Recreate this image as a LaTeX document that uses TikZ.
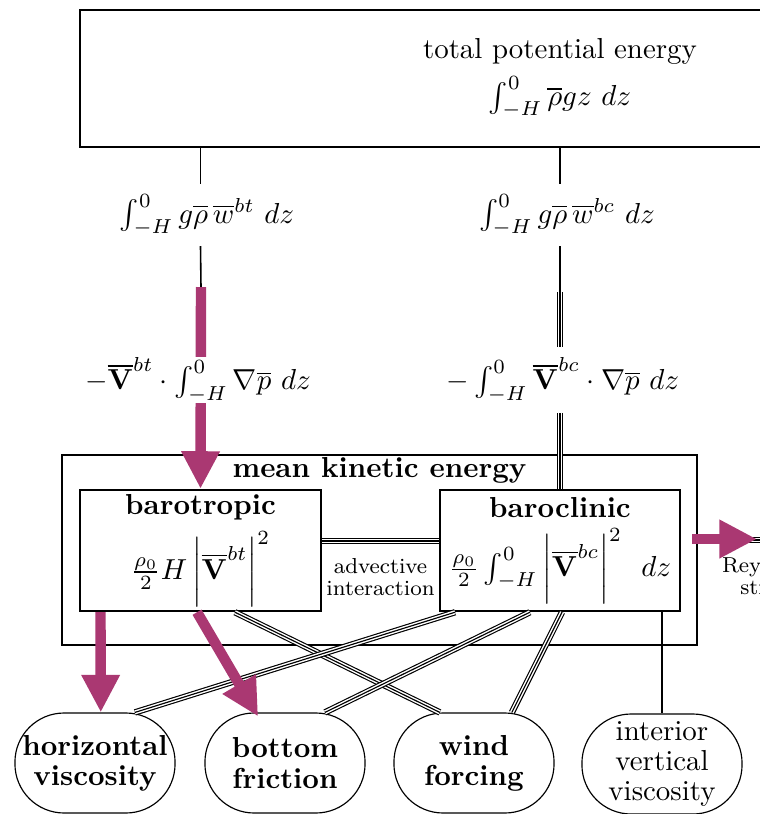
\documentclass[tikz,border=0pt]{standalone}
\usepackage{amsmath,amssymb}
\usepackage{xcolor}
\usepackage{tikz}
\usetikzlibrary{positioning,arrows.meta}
\definecolor{flowcol}{RGB}{170,56,114}

\begin{document}
\begin{tikzpicture}[x=0.346pt, y=-0.346pt, box/.style={draw, thick, align=center, inner sep=0pt},
    sink/.style={draw, rounded corners=17pt, minimum width=55.4pt, minimum height=34.6pt, inner sep=0pt,
    align=center, font=\bfseries\linespread{0.87}\selectfont},
    triple/.style={line width=2.2pt, postaction={draw=white, line width=1.4pt, postaction={draw=black, line width=0.4pt}}},
    flow/.style={draw=flowcol, line width=3.6pt, -{Triangle[length=13pt, width=12.5pt]}}, link/.style={line width=0.55pt},
    small/.style={font=\fontsize{7.5}{7.6}\selectfont, align=center}]
    \useasboundingbox (0,0) rectangle (760,814);
    \clip (0,0) rectangle (760,814);
    % reservoirs
    \node[box, minimum width=332pt, minimum height=47.4pt] (tpe) at (560,78.5) {total potential energy\\[3pt] $\int_{-H}^{0}\overline{\rho}gz\ dz$};
    \node[box, minimum width=219.7pt, minimum height=65.7pt] (mke) at (379.5,550) {};
    \node[font=\bfseries, inner sep=1pt, below=0pt of mke.north] (mketitle) {mean kinetic energy};
    \node[box, minimum width=83.4pt, minimum height=41.9pt] (bt) at (200.5,550.5) {\textbf{barotropic}\\[3pt] $\frac{\rho_0}{2}H\,\bigg|\overline{\mathbf{V}}^{bt}\bigg|^2$};
    \node[box, minimum width=83pt, minimum height=41.9pt] (bc) at (560,550.5) {\textbf{baroclinic}\\[3pt] $\frac{\rho_0}{2}\int_{-H}^{0}\bigg|\overline{\mathbf{V}}^{bc}\bigg|^2\ \ dz$};
    \node (wbt) at (207,215) {$\int_{-H}^{0} g\overline{\rho}\,\overline{w}^{bt}\ dz$};
    \node (wbc) at (567,215) {$\int_{-H}^{0} g\overline{\rho}\,\overline{w}^{bc}\ dz$};
    \node (pbc) at (563,380) {$-\int_{-H}^{0}\overline{\mathbf{V}}^{bc}\cdot\nabla\overline{p}\ dz$};
    \node[sink] (hv) at (95,763) {horizontal\\viscosity};
    \node[sink] (bf) at (285,763) {bottom\\friction};
    \node[sink] (wf) at (474,763) {wind\\forcing};
    \node[sink, font=\normalfont\linespread{0.87}\selectfont] (ivv) at (662,764) {interior\\vertical\\viscosity};
    \coordinate (btmid) at (201,287);
    \coordinate (bcmid) at (560,292);
    \coordinate (rsin) at (757,539);
    \coordinate (rsout) at (900,540);
    % conversions
    \draw[link] (tpe.south -| bt.north) -- (wbt.north -| bt.north);
    \draw[link] (wbt.south -| bt.north) -- (btmid);
    \draw[link] (tpe.south -| bc.north) -- (wbc.north -| bc.north);
    \draw[link] (wbc.south -| bc.north) -- (bcmid);
    \draw[triple] (bcmid) -- (pbc.north -| bc.north);
    \draw[triple] (pbc.south -| bc.north) -- (bc.north);
    \draw[triple] ([yshift=3.3pt]bt.east) -- node[below=1.5pt, small] (adv) {advective\\interaction} ([yshift=3.3pt]bc.west);
    \draw[triple] (mke.east |- rsout) -- (rsout);
    \node[small] (rstext) at (768,576) {Reynolds\\stress};
    % sinks and sources
    \draw[triple] ([xshift=11.9pt]bt.south) -- ([xshift=-11.8pt]wf.north);
    \draw[triple] ([xshift=-36.3pt]bc.south) -- ([xshift=13.8pt]hv.north);
    \draw[triple] ([xshift=-10.4pt]bc.south) -- ([xshift=13.8pt]bf.north);
    \draw[triple] ([xshift=0.7pt]bc.south) -- ([xshift=13.1pt]wf.north);
    \draw[link] (ivv.north |- bc.south) -- (ivv.north);
    % main pathway
    \draw[flow] (btmid) -- (bt.north);
    \node[fill=white, inner sep=0pt] (pbt) at (198,380) {$-\overline{\mathbf{V}}^{bt}\cdot\int_{-H}^{0}\nabla\overline{p}\ dz$};
    \draw[flow] ([xshift=-34.6pt]bt.south) -- ([xshift=2pt]hv.north);
    \draw[flow] ([xshift=-1.2pt]bt.south) -- ([xshift=-9.3pt, yshift=-1.4pt]bf.north);
    \draw[flow] ([xshift=-2pt]mke.east |- rsin) -- (rsin);
\end{tikzpicture}
\end{document}
